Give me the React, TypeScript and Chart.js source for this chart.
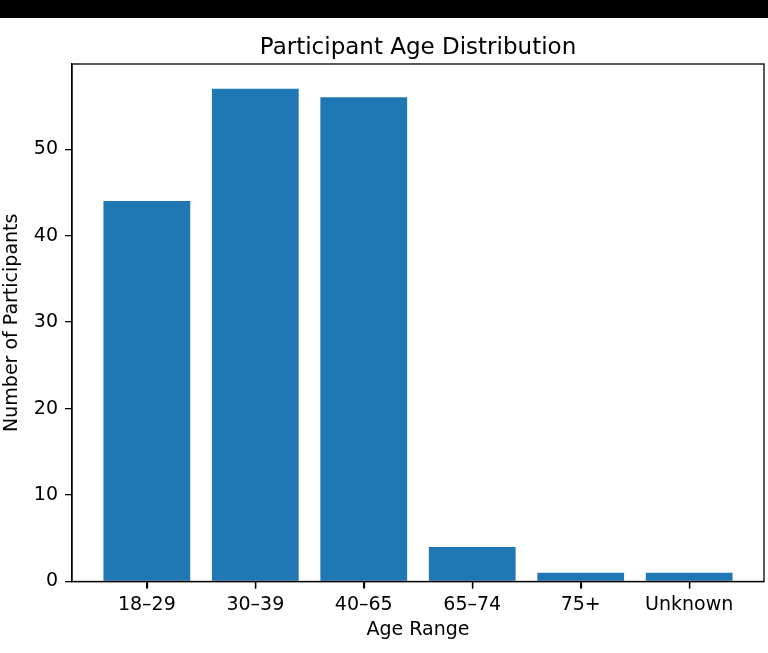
import React, { useEffect, useRef } from "react";
import { Chart, registerables } from "chart.js";

Chart.register(...registerables);

const categories: string[] = ["18–29", "30–39", "40–65", "65–74", "75+", "Unknown"];
const participants: number[] = [44, 57, 56, 4, 1, 1];
const yTicks: number[] = [0, 10, 20, 30, 40, 50];
const chartTitle = "Participant Age Distribution";

const W = 768;
const H = 653;
const FONT = "'DejaVu Sans', sans-serif";
const TICK_SIZE = 19;
const TITLE_SIZE = 23;
const TICK_LEN = 7;

const frame = {
  id: "frame",
  beforeDraw(chart: any) {
    const { ctx } = chart;
    ctx.save();
    ctx.fillStyle = "#ffffff";
    ctx.fillRect(0, 0, chart.width, chart.height);
    ctx.fillStyle = "#000000";
    ctx.fillRect(0, 0, chart.width, 18);
    ctx.restore();
  },
  afterDatasetsDraw(chart: any) {
    const { ctx, chartArea: a } = chart;
    const xs = chart.scales.x;
    ctx.save();
    ctx.strokeStyle = "#000000";
    ctx.lineWidth = 1.3;
    ctx.strokeRect(a.left, a.top, a.right - a.left, a.bottom - a.top);
    ctx.beginPath();
    categories.forEach((_, i) => {
      const px = Math.round(xs.getPixelForValue(i)) + 0.5;
      ctx.moveTo(px, a.bottom);
      ctx.lineTo(px, a.bottom + TICK_LEN);
    });
    ctx.stroke();
    ctx.fillStyle = "#000000";
    ctx.font = `${TITLE_SIZE}px ${FONT}`;
    ctx.textAlign = "center";
    ctx.textBaseline = "alphabetic";
    ctx.fillText(chartTitle, (a.left + a.right) / 2, a.top - 10);
    ctx.restore();
  },
};

export default function App() {
  const ref = useRef<HTMLCanvasElement | null>(null);
  useEffect(() => {
    const el = ref.current;
    if (!el) return;
    const n = categories.length;
    const chart = new Chart(el, {
      type: "bar",
      data: {
        datasets: [
          {
            label: "Participants",
            data: participants.map((v, i) => ({ x: i, y: v })),
            backgroundColor: "#1f77b4",
            borderWidth: 0,
            barPercentage: 0.8,
            categoryPercentage: 1,
          },
        ],
      },
      options: {
        animation: false,
        responsive: false,
        maintainAspectRatio: false,
        layout: { padding: { left: 0, right: 4, top: 64, bottom: 0 } },
        plugins: {
          legend: { display: false },
          tooltip: { enabled: false },
          title: { display: false },
        },
        scales: {
          x: {
            type: "linear",
            min: -0.69,
            max: n - 1 + 0.69,
            offset: false,
            afterBuildTicks(scale: any) {
              scale.ticks = categories.map((_, i) => ({ value: i }));
            },
            afterFit(scale: any) {
              scale.height = 71.5;
            },
            ticks: {
              autoSkip: false,
              maxRotation: 0,
              color: "#000000",
              padding: 5,
              font: { family: FONT, size: TICK_SIZE },
              callback: (v: any) => categories[Math.round(Number(v))] ?? "",
            },
            grid: {
              display: true,
              offset: false,
              drawOnChartArea: false,
              drawTicks: true,
              tickLength: TICK_LEN,
              color: "#000000",
              lineWidth: 1.3,
            },
            border: { display: true, color: "#000000", width: 1.3 },
            title: {
              display: true,
              text: "Age Range",
              color: "#000000",
              font: { family: FONT, size: TICK_SIZE },
              padding: { top: 12, bottom: 12 },
            },
          },
          y: {
            type: "linear",
            min: 0,
            max: 59.85,
            afterBuildTicks(scale: any) {
              scale.ticks = yTicks.map((v) => ({ value: v }));
            },
            afterFit(scale: any) {
              scale.width = 72;
            },
            ticks: {
              color: "#000000",
              padding: 7,
              font: { family: FONT, size: TICK_SIZE },
            },
            grid: {
              display: true,
              offset: false,
              drawOnChartArea: false,
              drawTicks: true,
              tickLength: TICK_LEN,
              color: "#000000",
              lineWidth: 1.3,
            },
            border: { display: true, color: "#000000", width: 1.3 },
            title: {
              display: true,
              text: "Number of Participants",
              color: "#000000",
              font: { family: FONT, size: TICK_SIZE },
              padding: { top: 1, bottom: 0 },
            },
          },
        },
      },
      plugins: [frame],
    });
    return () => chart.destroy();
  }, []);
  return (
    <div style={{ position: "fixed", left: 0, top: 0, width: W, height: H, background: "#fff" }}>
      <canvas ref={ref} width={W} height={H} style={{ display: "block", width: W, height: H }} />
    </div>
  );
}
